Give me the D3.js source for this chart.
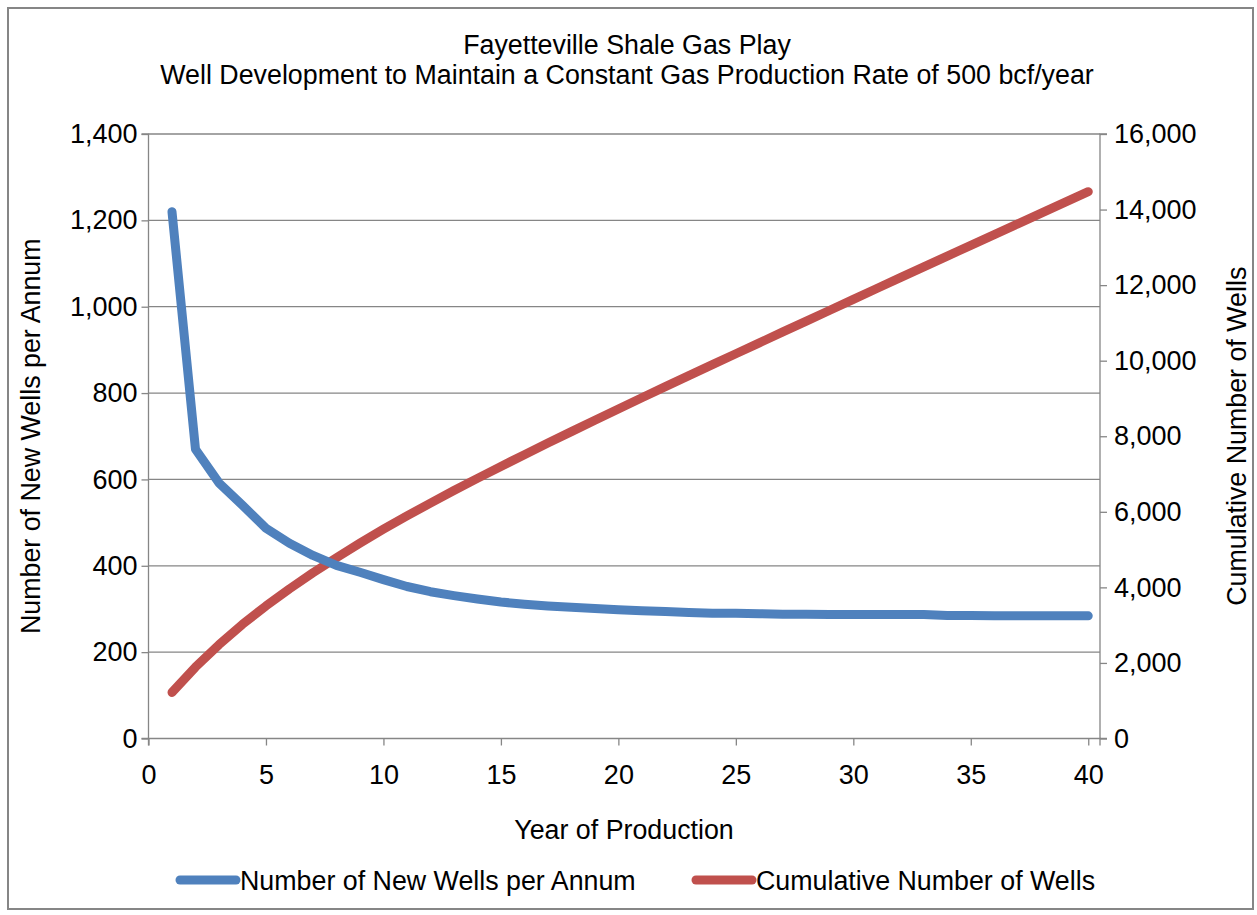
<!DOCTYPE html>
<html>
<head>
<meta charset="utf-8">
<script src="https://cdn.jsdelivr.net/npm/d3@7"></script>
<style>
  body { margin: 0; background: #fff; }
  text { font-family: "Liberation Sans", Arial, sans-serif; fill: #000; }
</style>
</head>
<body>
<div id="chart"></div>
<script>
(function(d3) {
    'use strict';

    // Data
    var years = d3.range(1, 41);
    var newWells = [1220, 670, 592, 540, 487, 452, 424, 401, 385, 368,
                    352, 340, 331, 323, 316, 311, 307, 304, 301, 298,
                    296, 294, 292, 290, 290, 289, 288, 288, 287, 287,
                    287, 287, 287, 285, 285, 284, 284, 284, 284, 284];
    var cumWells = [1220, 1890, 2482, 3022, 3509, 3961, 4385, 4786, 5171, 5539,
                    5891, 6231, 6562, 6885, 7201, 7512, 7819, 8123, 8424, 8722,
                    9018, 9312, 9604, 9894, 10184, 10473, 10761, 11049, 11336, 11623,
                    11910, 12197, 12484, 12769, 13054, 13338, 13622, 13906, 14190, 14474];
    var xTicks = [0, 5, 10, 15, 20, 25, 30, 35, 40];
    var yLeftTicks = [0, 200, 400, 600, 800, 1000, 1200, 1400];
    var yRightTicks = [0, 2000, 4000, 6000, 8000, 10000, 12000, 14000, 16000];
    var titleLines = ['Fayetteville Shale Gas Play',
                      'Well Development to Maintain a Constant Gas Production Rate of 500 bcf/year'];
    var seriesNames = ['Number of New Wells per Annum', 'Cumulative Number of Wells'];

    var width = 1257;
    var height = 915;
    var plot = { left: 148.5, right: 1100, top: 134, bottom: 738.5 };
    var blue = '#4f81bd';
    var red = '#c0504d';
    var gray = '#868686';
    var fontSize = '26.8px';

    var svg = d3.select('#chart')
        .append('svg')
        .attr('width', width)
        .attr('height', height);

    // Chart frame
    svg.append('rect')
        .attr('x', 8).attr('y', 8)
        .attr('width', 1245).attr('height', 901)
        .attr('fill', '#fff')
        .attr('stroke', gray)
        .attr('stroke-width', 2);

    // Scales
    var x = d3.scaleLinear().domain([0, 40.5]).range([plot.left, plot.right]);
    var yL = d3.scaleLinear().domain([0, 1400]).range([plot.bottom, plot.top]);
    var yR = d3.scaleLinear().domain([0, 16000]).range([plot.bottom, plot.top]);
    var fmt = d3.format(',');

    // Gridlines
    svg.append('g')
        .selectAll('line')
        .data(yLeftTicks.slice(1))
        .enter()
        .append('line')
        .attr('x1', plot.left).attr('x2', plot.right)
        .attr('y1', function(d) { return yL(d); })
        .attr('y2', function(d) { return yL(d); })
        .attr('stroke', gray)
        .attr('stroke-width', 1.3);

    // Axes
    var xAxis = svg.append('g')
        .attr('transform', 'translate(0,' + plot.bottom + ')')
        .call(d3.axisBottom(x).tickValues(xTicks).tickSize(7).tickPadding(19));
    var leftAxis = svg.append('g')
        .attr('transform', 'translate(' + plot.left + ',0)')
        .call(d3.axisLeft(yL).tickValues(yLeftTicks).tickFormat(fmt).tickSize(7).tickPadding(4));
    var rightAxis = svg.append('g')
        .attr('transform', 'translate(' + plot.right + ',0)')
        .call(d3.axisRight(yR).tickValues(yRightTicks).tickFormat(fmt).tickSize(7).tickPadding(7));

    [xAxis, leftAxis, rightAxis].forEach(function(a) {
        a.select('.domain').attr('stroke', gray).attr('stroke-width', 1.3);
        a.selectAll('.tick line').attr('stroke', gray).attr('stroke-width', 1.3);
        a.selectAll('.tick text')
            .style('font-family', '"Liberation Sans", Arial, sans-serif')
            .style('font-size', '27px')
            .attr('fill', '#000');
    });
    leftAxis.select('.domain').attr('d', 'M-7,' + plot.top + 'H0V' + plot.bottom + 'H-7');
    rightAxis.select('.domain').attr('d', 'M7,' + plot.top + 'H0V' + plot.bottom + 'H7');
    xAxis.select('.domain').attr('d', 'M' + plot.left + ',7V0H' + plot.right + 'V7');

    // Lines
    var lineL = d3.line()
        .x(function(d, i) { return x(years[i]); })
        .y(function(d) { return yL(d); });
    var lineR = d3.line()
        .x(function(d, i) { return x(years[i]); })
        .y(function(d) { return yR(d); });

    svg.append('path')
        .datum(cumWells)
        .attr('d', lineR)
        .attr('fill', 'none')
        .attr('stroke', red)
        .attr('stroke-width', 9)
        .attr('stroke-linejoin', 'round')
        .attr('stroke-linecap', 'round');

    svg.append('path')
        .datum(newWells)
        .attr('d', lineL)
        .attr('fill', 'none')
        .attr('stroke', blue)
        .attr('stroke-width', 9)
        .attr('stroke-linejoin', 'round')
        .attr('stroke-linecap', 'round');

    // Title
    svg.append('g')
        .selectAll('text')
        .data(titleLines)
        .enter()
        .append('text')
        .attr('x', 627)
        .attr('y', function(d, i) { return 54 + i * 30; })
        .attr('text-anchor', 'middle')
        .style('font-size', fontSize)
        .text(function(d) { return d; });

    // Axis titles
    svg.append('text')
        .attr('x', 624).attr('y', 839)
        .attr('text-anchor', 'middle')
        .style('font-size', fontSize)
        .text('Year of Production');

    svg.append('text')
        .attr('transform', 'translate(40,' + ((plot.top + plot.bottom) / 2) + ') rotate(-90)')
        .attr('text-anchor', 'middle')
        .style('font-size', fontSize)
        .text(seriesNames[0]);

    svg.append('text')
        .attr('transform', 'translate(1246,' + ((plot.top + plot.bottom) / 2) + ') rotate(-90)')
        .attr('text-anchor', 'middle')
        .style('font-size', fontSize)
        .text(seriesNames[1]);

    // Legend
    var legendItems = [
        { name: seriesNames[0], color: blue, x: 180 },
        { name: seriesNames[1], color: red, x: 696 }
    ];
    var legend = svg.selectAll('.legend')
        .data(legendItems)
        .enter()
        .append('g')
        .attr('class', 'legend')
        .attr('transform', function(d) { return 'translate(' + d.x + ',880)'; });

    legend.append('line')
        .attr('x1', 0).attr('x2', 56)
        .attr('y1', 0).attr('y2', 0)
        .attr('stroke', function(d) { return d.color; })
        .attr('stroke-width', 9)
        .attr('stroke-linecap', 'round');

    legend.append('text')
        .attr('x', 60)
        .attr('y', 10)
        .style('font-size', fontSize)
        .text(function(d) { return d.name; });

})(window.d3);
</script>
</body>
</html>
